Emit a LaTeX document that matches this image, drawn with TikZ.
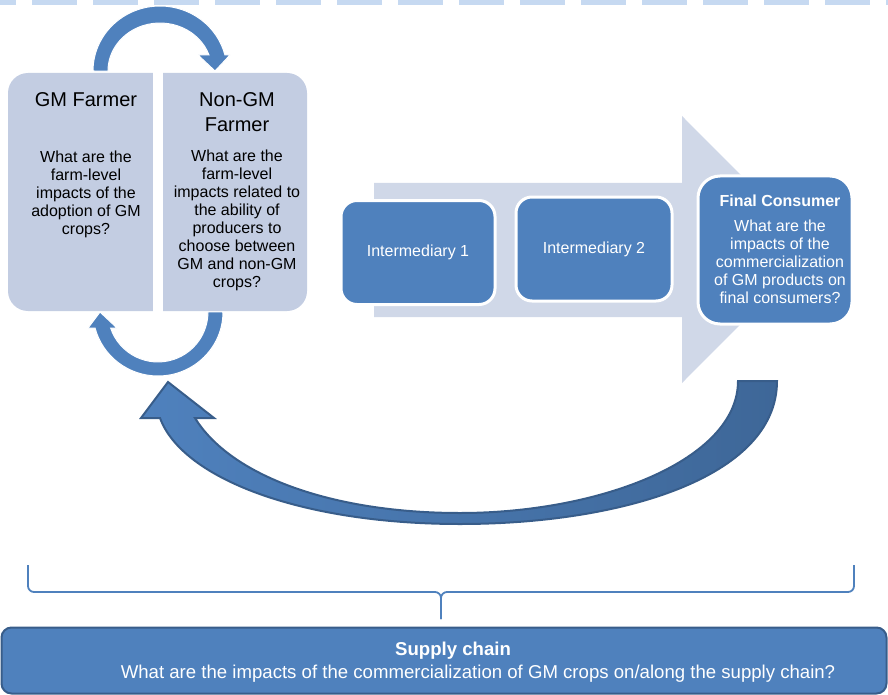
\documentclass[tikz,border=0pt]{standalone}
\usepackage{fontspec}
\setmainfont{Liberation Sans}
\usepackage{tikz}
\usetikzlibrary{calc}

\definecolor{farmfill}{RGB}{195,205,226}
\definecolor{flowfill}{RGB}{208,216,232}
\definecolor{accentblue}{RGB}{79,129,189}
\definecolor{darkblue}{RGB}{56,93,138}
\definecolor{deepblue}{RGB}{62,103,152}
\definecolor{dashblue}{RGB}{198,217,241}

\tikzset{
  farmtitle/.style={inner sep=0, align=center, font=\fontsize{20}{25}\selectfont},
  farmtext/.style={inner sep=0, align=center, font=\fontsize{16}{18}\selectfont},
  stagebox/.style={draw=white, line width=3pt, fill=accentblue, text=white, inner sep=0,
    font=\fontsize{16}{18}\selectfont},
  stagetext/.style={inner sep=0, align=center, text=white, font=\fontsize{16}{18}\selectfont},
  chaintext/.style={inner sep=0, text=white, font=\fontsize{18.6}{21}\selectfont},
  loopshape/.style={fill=accentblue, draw=white, line width=1pt},
  bracepart/.style={accentblue, line width=1.8pt, rounded corners=6pt}
}

\begin{document}
\begin{tikzpicture}[x=1pt, y=-1pt]
\useasboundingbox (0,0) rectangle (888,695);
\draw[dashblue, line width=5pt, dash pattern=on 45pt off 16pt, dash phase=29pt] (0,2.5) -- (888,2.5);

% farmers (base = last line)
\fill[farmfill, rounded corners=20pt] (8,73) rectangle (307,311);
\fill[white] (153,70) rectangle (163,314);
\node[farmtitle, anchor=base] (gmtitle) at (86,107) {GM Farmer};
\node[farmtext, anchor=base] (gmtext) at (86,234) {What are the\\farm-level\\impacts of the\\adoption of GM\\crops?};
\node[farmtitle, anchor=base] (nongmtitle) at (237,132) {Non-GM\\Farmer};
\node[farmtext, anchor=base] (nongmtext) at (237,287) {What are the\\farm-level\\impacts related to\\the ability of\\producers to\\choose between\\GM and non-GM\\crops?};

% loop between the farmers
\filldraw[loopshape] (93,71) arc[start angle=180, end angle=345.75, x radius=67, y radius=65]
  -- (230,55) -- (215,71) -- (198,55) -- (209,55)
  arc[start angle=340.5, end angle=180, x radius=52, y radius=48] -- cycle;
\filldraw[loopshape] (223,312) arc[start angle=0, end angle=165.5, x radius=65, y radius=64]
  -- (88,328) -- (100,312) -- (117,328) -- (110.6,328)
  arc[start angle=161.3, end angle=0, x radius=50, y radius=50] -- cycle;

% supply chain flow
\fill[flowfill] (374,183) -- (682,183) -- (682,116) -- (815,249.5) -- (682,383) -- (682,317) -- (374,317) -- cycle;
\node[stagebox, rounded corners=16pt, minimum width=154, minimum height=104] (inter1) at (418,252.5) {Intermediary 1};
\node[stagebox, rounded corners=16pt, minimum width=156, minimum height=104] (inter2) at (594,249) {Intermediary 2};
\node[stagebox, rounded corners=22pt, minimum width=154, minimum height=148] (consumer) at (775,250) {};
\node[stagetext, anchor=base] (consumertext) at (780,303) {\bfseries Final Consumer\\[7pt]What are the\\impacts of the\\commercialization\\of GM products on\\final consumers?};

% feedback to the farmers
\path[draw=darkblue, line width=2pt, left color=accentblue, middle color=accentblue!80!deepblue, right color=deepblue]
  (777,381) .. controls (777,478) and (620,524) .. (460,524)
  .. controls (300,524) and (182,478) .. (160,418)
  -- (141,418) -- (168,382) -- (214,418) -- (195,418)
  .. controls (230,475) and (330,513) .. (460,513)
  .. controls (600,513) and (738,460) .. (738,381) -- cycle;

% brace and supply chain
\draw[bracepart] (28,565) -- (28,592) -- (441,592) -- (441,619);
\draw[bracepart] (854,565) -- (854,592) -- (441,592) -- (441,619);
\node[fill=accentblue, draw=darkblue, line width=2pt, rounded corners=10pt, minimum width=885, minimum height=66] (chain) at (444,660.5) {};
\node[chaintext, anchor=base] (chainhead) at (453,655) {\bfseries Supply chain};
\node[chaintext, anchor=base] (chainq) at (478,678) {What are the impacts of the commercialization of GM crops on/along the supply chain?};
\end{tikzpicture}
\end{document}
